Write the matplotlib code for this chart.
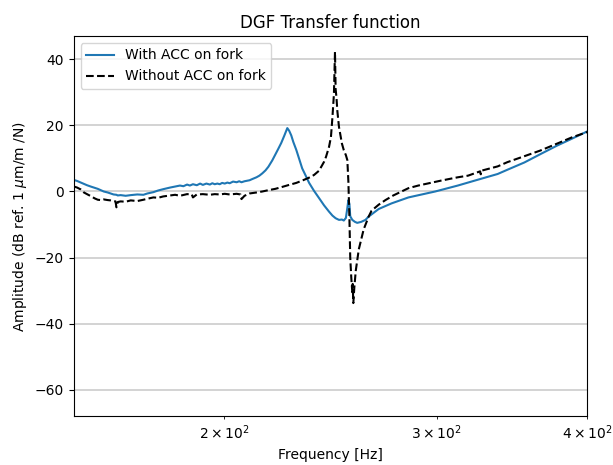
import matplotlib
matplotlib.use('Agg')
import matplotlib.pyplot as plt

# with accelerometer on the fork
freq_acc = [150.1, 151.0, 152.1, 153.0, 153.9, 155.0, 156.2, 157.1, 158.0, 158.9,
            160.1, 161.0, 161.9, 162.8, 163.2, 164.1, 165.7, 167.3, 169.4, 171.4,
            172.7, 174.7, 176.3, 178.0, 180.4, 182.1, 183.8, 185.0, 186.3, 187.3,
            188.4, 189.8, 191.0, 192.0, 193.3, 194.6, 195.5, 196.4, 197.4, 198.3,
            199.2, 200.2, 201.2, 202.1, 203.4, 204.8, 205.8, 206.7, 207.9, 209.9,
            211.1, 212.7, 213.9, 215.1, 216.4, 217.6, 219.2, 220.5, 221.8, 223.0,
            224.3, 225.6, 226.4, 227.3, 228.2, 229.5, 230.8, 232.1, 233.8, 235.2,
            237.4, 239.7, 242.0, 244.3, 245.9, 247.4, 249.0, 250.4, 251.3, 252.3,
            253.0, 253.5, 254.0, 254.4, 255.4, 256.7, 257.8, 259.8, 261.9, 263.5,
            268.6, 275.3, 284.3, 299.2, 312.4, 322.7, 337.1, 343.5, 354.8, 365.7,
            377.6, 388.5, 400.0]
amp_acc = [3.5, 3.2, 2.7, 2.3, 1.9, 1.5, 1.1, 0.8, 0.4, 0.0,
           -0.3, -0.6, -0.9, -1.0, -1.2, -1.1, -1.3, -1.1, -0.9, -1.0,
           -0.6, -0.2, 0.3, 0.7, 1.2, 1.5, 1.8, 1.6, 2.1, 1.8,
           2.2, 1.9, 2.4, 2.0, 2.4, 2.1, 2.5, 2.2, 2.4, 2.2,
           2.6, 2.4, 2.7, 2.5, 3.0, 2.8, 3.1, 2.8, 3.1, 3.4,
           3.8, 4.3, 4.8, 5.5, 6.4, 7.5, 9.4, 11.2, 13.0, 14.7,
           16.9, 19.2, 18.4, 17.0, 15.0, 12.6, 9.8, 7.0, 4.6, 2.6,
           0.2, -2.0, -4.2, -6.1, -7.3, -8.1, -8.6, -8.5, -8.8, -8.0,
           -5.0, -2.6, -3.8, -7.5, -8.6, -9.2, -9.5, -9.2, -8.6, -7.6,
           -5.3, -3.6, -1.8, 0.0, 1.8, 3.3, 5.3, 6.6, 8.8, 11.3,
           13.9, 16.0, 18.2]

# without accelerometer on the fork
freq_noacc = [150.1, 151.0, 152.1, 153.0, 153.9, 155.0, 156.2, 157.1, 158.0, 158.9,
              160.1, 161.0, 161.9, 162.5, 162.8, 163.2, 164.1, 165.7, 167.3, 169.4,
              171.4, 172.7, 174.7, 176.3, 178.0, 180.4, 182.1, 183.8, 186.3, 188.0,
              188.4, 189.8, 192.0, 194.6, 196.4, 198.3, 200.2, 202.1, 204.8, 206.3,
              206.7, 207.9, 209.9, 212.7, 215.1, 217.6, 220.5, 223.0, 226.4, 229.5,
              232.1, 235.2, 237.4, 239.7, 242.0, 242.9, 244.3, 245.2, 245.9, 246.6,
              247.1, 247.4, 247.8, 248.2, 249.0, 250.4, 251.3, 252.3, 253.0, 253.5,
              254.0, 254.4, 254.9, 255.4, 255.6, 255.9, 256.4, 257.1, 258.6, 261.0,
              263.5, 265.0, 268.6, 272.1, 276.2, 284.3, 289.7, 302.6, 312.4, 318.6,
              326.0, 326.4, 326.8, 337.1, 343.5, 354.8, 365.7, 377.6, 388.5, 400.0]
amp_noacc = [1.5, 1.2, 0.6, -0.3, -0.8, -1.4, -2.1, -2.5, -2.6, -2.4,
             -2.6, -2.7, -2.9, -3.0, -4.8, -3.2, -3.0, -3.1, -2.7, -2.9,
             -2.5, -2.2, -1.8, -1.9, -1.5, -1.2, -1.0, -1.3, -0.8, -0.9,
             -1.8, -0.9, -0.8, -1.0, -0.8, -0.9, -0.7, -0.9, -0.7, -0.9,
             -2.3, -1.3, -0.6, -0.3, 0.0, 0.4, 0.8, 1.3, 2.0, 2.6,
             3.3, 4.2, 5.0, 6.3, 9.0, 10.5, 13.5, 16.5, 22.5, 29.5,
             42.3, 31.0, 28.5, 24.5, 19.5, 14.5, 12.5, 11.0, 9.5, 3.0,
             -8.0, -20.0, -26.0, -30.5, -28.0, -33.8, -29.0, -24.0, -17.5, -11.5,
             -7.6, -5.8, -4.0, -2.6, -1.2, 1.0, 1.8, 3.3, 4.3, 4.8,
             6.1, 5.2, 6.3, 7.6, 8.9, 10.7, 12.4, 14.5, 16.4, 18.0]

fig = plt.figure(figsize=(6.13, 4.65), dpi=100)
ax = fig.add_axes([0.12, 0.1054, 0.838, 0.8172])

ax.plot(freq_acc, amp_acc, label='With ACC on fork')
ax.plot(freq_noacc, amp_noacc, 'k--', label='Without ACC on fork')

ax.set_xscale('log')
ax.set_xlim(150, 400)
ax.set_ylim(-68, 47.1)
ax.grid(True, color='#cccccc', linewidth=1.2)
ax.set_title('DGF Transfer function')
ax.set_xlabel('Frequency [Hz]')
ax.set_ylabel(r'Amplitude (dB ref. 1 $\mu$m/m /N)')
ax.legend(loc='upper left')

fig.savefig('out.png')
